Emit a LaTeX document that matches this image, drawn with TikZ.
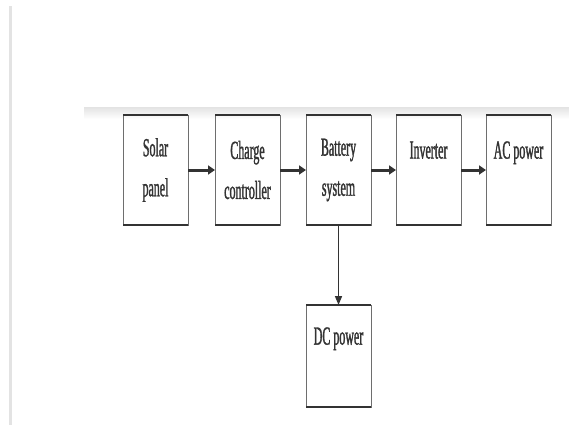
\documentclass[tikz,border=0pt]{standalone}
\usepackage{fontspec}
\newfontfamily\blkfont[FakeStretch=0.46,FakeBold=1.2]{Liberation Serif}
\usetikzlibrary{positioning,arrows.meta}
\definecolor{inkgray}{HTML}{333333}
\definecolor{sidegray}{HTML}{6E6E6E}
\tikzset{
  blk/.style={draw=sidegray, line width=0.9pt, minimum width=65pt, minimum height=110pt,
    inner sep=0pt, outer sep=0pt, align=center, text=inkgray,
    font=\blkfont\fontsize{26}{40}\selectfont},
  rim/.style={inkgray, line width=2.8pt},
  flow/.style={inkgray, line width=3pt, -{Triangle[length=7pt,width=9pt]}},
  drop/.style={inkgray, line width=1.6pt, -{Triangle[length=9pt,width=7pt]}}
}
\begin{document}
\begin{tikzpicture}[x=1pt,y=-1pt]
    \useasboundingbox (0,0) rectangle (569,431);
    \fill[gray!22] (9,6) rectangle (12,425);
    \shade[top color=gray!22, bottom color=white] (84,107) rectangle (569,119);

    \node[blk] (solar) at (155.5,170) {Solar\\panel};
    \node[blk, right=27pt of solar] (charge) {Charge\\controller};
    \node[blk, right=26pt of charge] (battery) {Battery\\system};
    \node[blk, right=25pt of battery] (inverter) {Inverter\\\mbox{}};
    \node[blk, right=25pt of inverter] (acpower) {AC power\\\mbox{}};
    \node[blk, minimum height=102pt, below=80pt of battery.south, anchor=north] (dcpower) {DC power\\\mbox{}};

    \foreach \n in {solar,charge,battery,inverter,acpower,dcpower} {
        \draw[rim] (\n.north west) -- (\n.north east);
        \draw[rim] (\n.south west) -- (\n.south east);
    }

    \draw[flow] (solar) -- (charge);
    \draw[flow] (charge) -- (battery);
    \draw[flow] (battery) -- (inverter);
    \draw[flow] (inverter) -- (acpower);
    \draw[drop] (battery) -- (dcpower);
\end{tikzpicture}
\end{document}
